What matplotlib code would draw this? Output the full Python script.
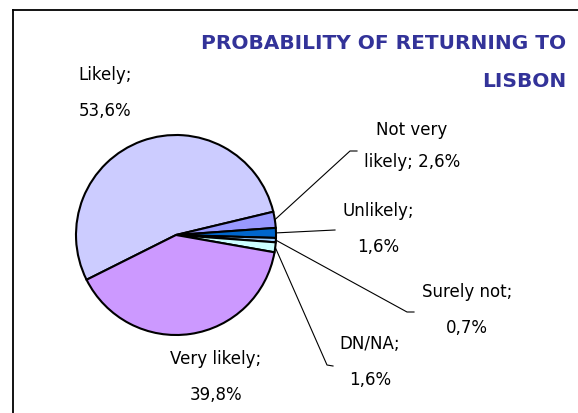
import numpy as np
import matplotlib
matplotlib.use("Agg")
import matplotlib.pyplot as plt

# Data (clockwise order starting at the Likely / Very likely boundary)
categories = ["Likely", "Not very likely", "Unlikely", "Surely not", "DN/NA", "Very likely"]
values = [53.6, 2.6, 1.6, 0.7, 1.6, 39.8]
value_labels = ["53,6%", "2,6%", "1,6%", "0,7%", "1,6%", "39,8%"]
colors = ["#CCCCFF", "#9999FF", "#0066CC", "#99CCFF", "#CCFFFF", "#CC99FF"]
title = "PROBABILITY OF RETURNING TO\nLISBON"

W, H = 578, 413
fig = plt.figure(figsize=(W / 100, H / 100), dpi=100)
ax = fig.add_axes([0, 0, 1, 1])

def py(y):  # pixel row from top -> data y
    return H - y

cx, cy, R = 176, py(235), 100
wedges, _ = ax.pie(values, colors=colors, startangle=206.6, counterclock=False,
                   center=(cx, cy), radius=R, frame=True,
                   wedgeprops=dict(edgecolor="black", linewidth=1.5))
ax.set_xlim(0, W)
ax.set_ylim(0, H)
ax.set_aspect("equal")
ax.axis("off")

# frame (open at right/bottom)
ax.plot([12.5, 12.5], [py(H + 5), py(9.5)], color="black", lw=1.3, clip_on=False)
ax.plot([12.5, W + 5], [py(9.5), py(9.5)], color="black", lw=1.3, clip_on=False)

font = dict(family="DejaVu Sans", fontsize=12, color="black")

# label layout: (text x, text y-centre in px from top, linespacing, leader elbow points)
layout = {
    "Likely": ((105, 93), 2.3, None),
    "Not very likely": ((412, 146), 2.05, [(350, 151), (357, 151)]),
    "Unlikely": ((378, 229), 2.3, [(335, 230)]),
    "Surely not": ((467, 310), 2.3, [(407, 312), (414, 312)]),
    "DN/NA": ((370, 362), 2.3, [(327, 365), (333, 366)]),
    "Very likely": ((216, 377), 2.3, None),
}

for w, cat, vl in zip(wedges, categories, value_labels):
    (tx, ty), ls, elbow = layout[cat]
    if cat == "Not very likely":
        txt = "Not very\nlikely; " + vl
    else:
        txt = cat + ";\n" + vl
    ax.text(tx, py(ty), txt, ha="center", va="center", linespacing=ls, **font)
    if elbow:
        mid = np.deg2rad((w.theta1 + w.theta2) / 2)
        xs = [cx + R * np.cos(mid)] + [p[0] for p in elbow]
        ys = [cy + R * np.sin(mid)] + [py(p[1]) for p in elbow]
        ax.plot(xs, ys, color="black", lw=0.8)

ax.text(566, py(62.5), title, ha="right", va="center", fontsize=14.5,
        fontweight="bold", color="#333399", linespacing=2.3, family="DejaVu Sans")

fig.savefig("out.png", dpi=100)
